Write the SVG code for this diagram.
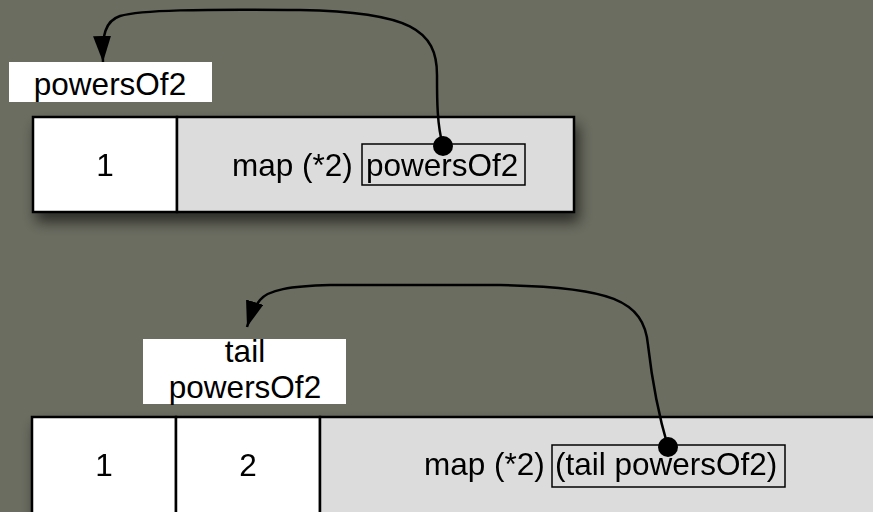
<svg xmlns="http://www.w3.org/2000/svg" width="873" height="512" viewBox="0 0 873 512">
<style>
  .bg { fill: #6c6d61; }
  .cell { stroke: #000; stroke-width: 2.5; }
  .val { fill: #fff; }
  .thunk { fill: #dcdcdc; }
  .t { font-family: "Liberation Sans", Arial, sans-serif; font-size: 31.5px; fill: #000; }
  .ref { fill: none; stroke: #000; stroke-width: 1.5; }
  .lbl { fill: #fff; }
  .conn { fill: none; stroke: #000; stroke-width: 2.5; }
</style>
<defs>
  <filter id="shadow" x="-10%" y="-20%" width="130%" height="160%">
    <feGaussianBlur in="SourceAlpha" stdDeviation="7"/>
    <feOffset dx="4" dy="9" result="b"/>
    <feComponentTransfer><feFuncA type="linear" slope="0.6"/></feComponentTransfer>
    <feMerge><feMergeNode/><feMergeNode in="SourceGraphic"/></feMerge>
  </filter>
  <marker id="arrow" markerUnits="userSpaceOnUse" markerWidth="28" markerHeight="20" refX="26" refY="9" orient="auto">
    <path d="M0,0 L26,9 L0,18 z" fill="#000"/>
  </marker>
</defs>
<rect class="bg" x="0" y="0" width="873" height="512"/>

<g id="label-top">
  <rect class="lbl" x="9" y="62" width="203" height="40"/>
  <text class="t" x="110" y="95" text-anchor="middle">powersOf2</text>
</g>

<g id="list-top" filter="url(#shadow)">
  <rect class="cell val" x="33" y="117" width="144" height="95"/>
  <rect class="cell thunk" x="177" y="117" width="397" height="95"/>
  <text class="t" x="105" y="176" text-anchor="middle">1</text>
  <text class="t" x="232" y="176">map (*2)</text>
  <rect class="ref" x="362" y="144" width="163" height="41"/>
  <text class="t" x="366" y="176">powersOf2</text>
</g>

<g id="label-bottom">
  <rect class="lbl" x="143" y="339" width="203" height="65"/>
  <text class="t" x="245" y="362" text-anchor="middle">tail</text>
  <text class="t" x="245" y="398" text-anchor="middle">powersOf2</text>
</g>

<g id="list-bottom" filter="url(#shadow)">
  <rect class="cell val" x="32" y="417" width="144" height="110"/>
  <rect class="cell val" x="176" y="417" width="144" height="110"/>
  <rect class="cell thunk" x="320" y="417" width="570" height="110"/>
  <text class="t" x="104" y="476" text-anchor="middle">1</text>
  <text class="t" x="248" y="476" text-anchor="middle">2</text>
  <text class="t" x="424" y="475">map (*2)</text>
  <rect class="ref" x="552" y="445" width="233" height="42"/>
  <text class="t" x="555" y="475">(tail powersOf2)</text>
</g>

<g id="connectors">
  <path class="conn" d="M443,146 C437,125 437,100 437,75 C437,30 410,12 300,10 C200,9 140,10 120,16 C105,21 102,35 103,62" marker-end="url(#arrow)"/>
  <circle cx="443" cy="146" r="10" fill="#000"/>
  <path class="conn" d="M668,447 C660,420 652,380 648,345 C644,300 610,287 500,285 L330,285 C290,286 268,290 260,300 C255,306 251,314 247,327" marker-end="url(#arrow)"/>
  <circle cx="668" cy="447" r="10" fill="#000"/>
</g>
</svg>
